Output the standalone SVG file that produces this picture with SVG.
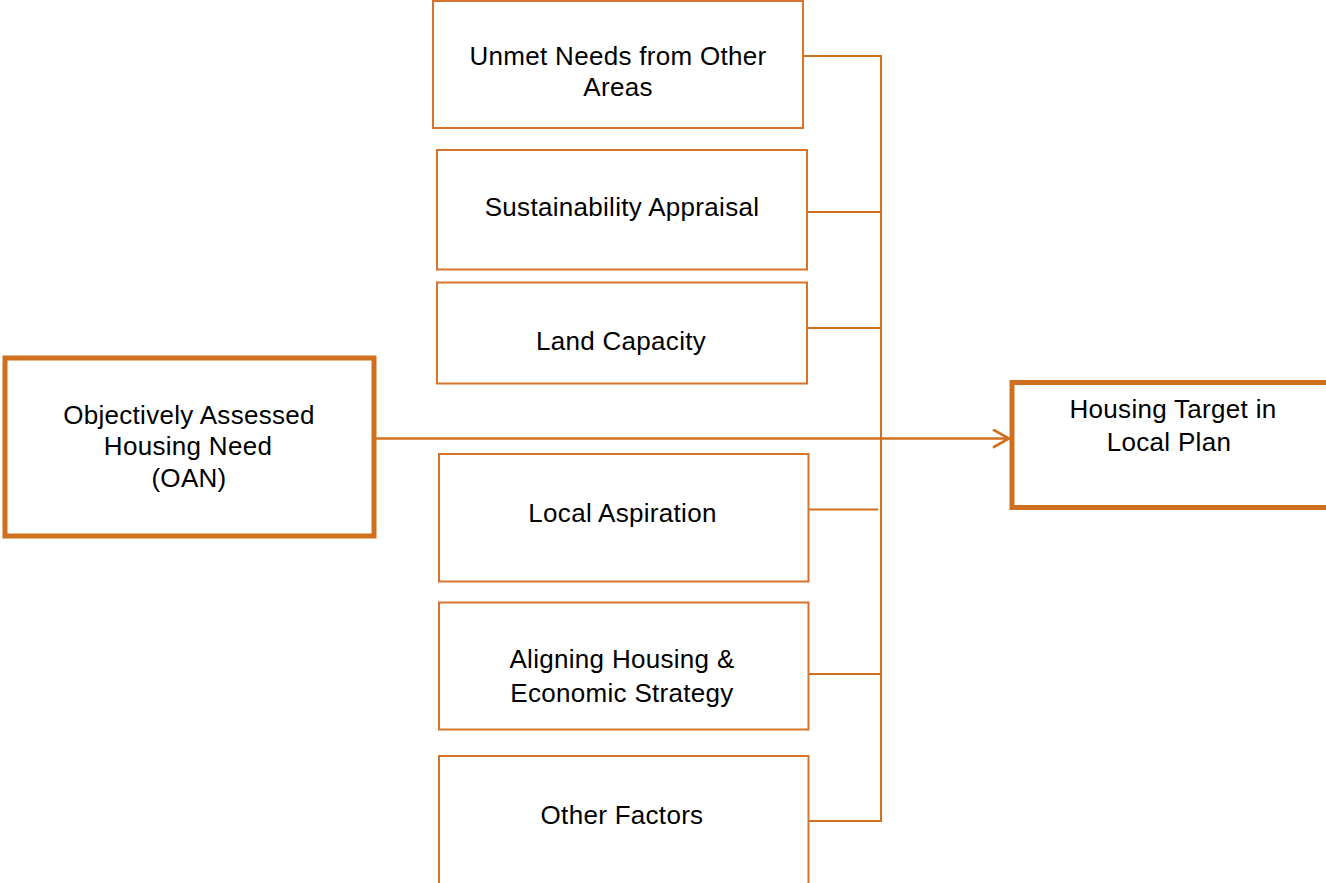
<svg xmlns="http://www.w3.org/2000/svg" width="1326" height="883" viewBox="0 0 1326 883">
  <defs>
    <style>
      .box { fill: #ffffff; stroke: #D5742A; stroke-width: 2; }
      .major { fill: #ffffff; stroke: #D0701F; stroke-width: 5; }
      .lbl { font-family: "Liberation Sans", Arial, sans-serif; font-size: 26px; fill: #000000; text-anchor: middle; letter-spacing: 0.3px; }
      .conn { fill: none; stroke: #D0701F; stroke-width: 2; }
      .main { fill: none; stroke: #D0701F; stroke-width: 2.6; }
    </style>
    <marker id="arrow" viewBox="0 0 20 20" refX="17" refY="10" markerWidth="20" markerHeight="20" markerUnits="userSpaceOnUse" orient="auto">
      <path d="M1,1 L17,10 L1,19" fill="none" stroke="#D0701F" stroke-width="2.6"/>
    </marker>
  </defs>
  <rect width="1326" height="883" fill="#ffffff"/>

  <g id="connectors">
    <polyline class="conn" points="803,56 881,56 881,821 807,821"/>
    <line class="conn" x1="805" y1="212" x2="881" y2="212"/>
    <line class="conn" x1="805" y1="328" x2="881" y2="328"/>
    <line class="conn" x1="803" y1="509.5" x2="878" y2="509.5"/>
    <line class="conn" x1="805" y1="674" x2="881" y2="674"/>
    <line class="main" x1="376" y1="438.5" x2="1009" y2="438.5" marker-end="url(#arrow)"/>
  </g>

  <g id="node-unmet">
    <rect class="box" x="433" y="1" width="370" height="127"/>
    <text class="lbl" x="618" y="65">Unmet Needs from Other</text>
    <text class="lbl" x="618" y="96">Areas</text>
  </g>

  <g id="node-sustainability">
    <rect class="box" x="437" y="150" width="370" height="119.5"/>
    <text class="lbl" x="622" y="216">Sustainability Appraisal</text>
  </g>

  <g id="node-land">
    <rect class="box" x="437" y="282.5" width="370" height="101"/>
    <text class="lbl" x="621" y="349.5">Land Capacity</text>
  </g>

  <g id="node-local">
    <rect class="box" x="439" y="454" width="369.5" height="127.5"/>
    <text class="lbl" x="622.5" y="522">Local Aspiration</text>
  </g>

  <g id="node-aligning">
    <rect class="box" x="439" y="602.5" width="369.5" height="127"/>
    <text class="lbl" x="622" y="668">Aligning Housing &amp;</text>
    <text class="lbl" x="622" y="702">Economic Strategy</text>
  </g>

  <g id="node-other">
    <rect class="box" x="439" y="756" width="369.5" height="140"/>
    <text class="lbl" x="622" y="823.5">Other Factors</text>
  </g>

  <g id="node-oan">
    <rect class="major" x="5" y="358" width="369" height="178"/>
    <text class="lbl" x="189" y="423.5">Objectively Assessed</text>
    <text class="lbl" x="188" y="455">Housing Need</text>
    <text class="lbl" x="189" y="487">(OAN)</text>
  </g>

  <g id="node-target">
    <rect class="major" x="1012" y="382.5" width="330" height="125"/>
    <text class="lbl" x="1173" y="418">Housing Target in</text>
    <text class="lbl" x="1169" y="451">Local Plan</text>
  </g>
</svg>
